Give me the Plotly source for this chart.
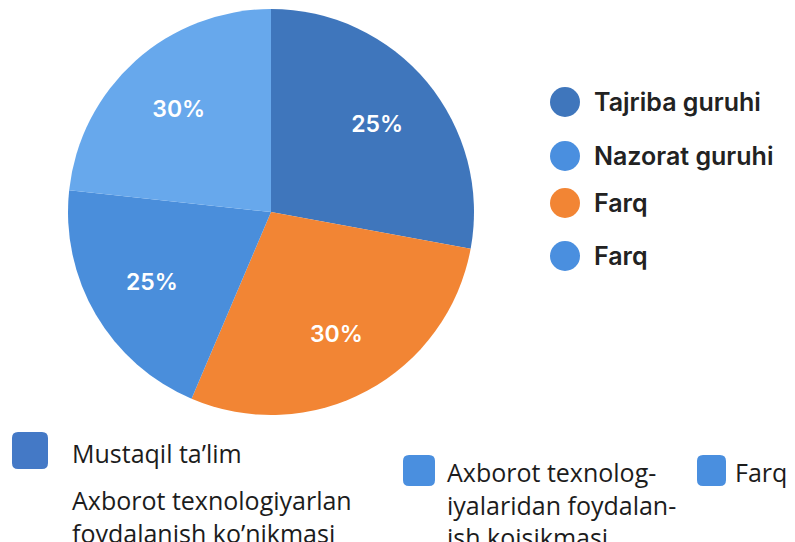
import plotly.graph_objects as go

W, H = 795, 542
PAGE_PAD = 8  # default body margin of the page

# slices, clockwise from 12 o'clock
slice_names = ["Tajriba guruhi", "Farq", "Nazorat guruhi", "Boshqa"]
slice_values = [27.9, 28.5, 20.3, 23.3]
slice_text = ["25%", "30%", "25%", "30%"]
slice_colors = ["#3f76bc", "#f28534", "#4a8edb", "#67a8ec"]

# right-hand legend
legend_labels = ["Tajriba guruhi", "Nazorat guruhi", "Farq", "Farq"]
legend_colors = ["#3f76bc", "#4a8fdf", "#f28534", "#4a8fdf"]

# bottom legend
bottom_labels = ["Mustaqil ta’lim", "Axborot texnolog-<br>iyalaridan foydalan-<br>ish koisikmasi", "Farq"]
bottom_colors = ["#4479c6", "#4a8fdf", "#4a8fdf"]
bottom_note = "Axborot texnologiyarlan<br>foydalanish ko’nikmasi"


def px(x, y):
    # screen pixel position -> paper coordinates (margins are zero)
    return (x - PAGE_PAD) / W, 1 - (y - PAGE_PAD) / H


fig = go.Figure()

cx, cy, r = 271, 212, 203
x0, y1 = px(cx - r, cy - r)
x1, y0 = px(cx + r, cy + r)
dom = dict(x=[x0, x1], y=[y0, y1])

# the coloured pie
fig.add_trace(go.Pie(
    labels=slice_names,
    values=slice_values,
    textinfo="none",
    marker=dict(colors=slice_colors, line=dict(width=0)),
    sort=False,
    direction="clockwise",
    rotation=0,
    domain=dom,
    showlegend=False,
    hoverinfo="skip",
))
# transparent ring on top only to carry the percentage labels further out
fig.add_trace(go.Pie(
    labels=slice_names,
    values=slice_values,
    text=slice_text,
    textinfo="text",
    textposition="inside",
    insidetextorientation="horizontal",
    textfont=dict(family="Inter", size=23, color="white", weight=600),
    marker=dict(colors=["rgba(0,0,0,0)"] * 4, line=dict(width=0)),
    hole=0.36,
    sort=False,
    direction="clockwise",
    rotation=0,
    domain=dom,
    showlegend=False,
    hoverinfo="skip",
))

shapes = []
annotations = []

# right legend: circles + labels
leg_y = [102, 156, 203, 256]
for lab, col, yy in zip(legend_labels, legend_colors, leg_y):
    a, b = px(550, yy - 15)
    c, d = px(580, yy + 15)
    shapes.append(dict(type="circle", xref="paper", yref="paper",
                       x0=a, x1=c, y0=d, y1=b,
                       fillcolor=col, line=dict(width=0)))
    tx, ty = px(592, yy)
    annotations.append(dict(text=lab, x=tx, y=ty, xref="paper", yref="paper",
                            xanchor="left", yanchor="middle", showarrow=False,
                            font=dict(family="Inter", size=25, color="#222222", weight=600)))

# bottom legend: rounded squares
sq = [(12, 432, 48, 469), (403, 455, 435, 486), (697, 455, 726, 486)]
for (ax, ay, bx, by), col in zip(sq, bottom_colors):
    rr = 6
    path = (f"M {ax+rr},{ay} L {bx-rr},{ay} Q {bx},{ay} {bx},{ay+rr} "
            f"L {bx},{by-rr} Q {bx},{by} {bx-rr},{by} L {ax+rr},{by} "
            f"Q {ax},{by} {ax},{by-rr} L {ax},{ay+rr} Q {ax},{ay} {ax+rr},{ay} Z")
    pts = []
    for tok in path.split():
        if "," in tok:
            xx, yy = tok.split(",")
            p, q = px(float(xx), float(yy))
            pts.append(f"{p:.5f},{q:.5f}")
        else:
            pts.append(tok)
    shapes.append(dict(type="path", xref="paper", yref="paper", path=" ".join(pts),
                       fillcolor=col, line=dict(width=0)))

bfont = dict(family="Open Sans", size=25, color="#1c1c1c")
for text, (xx, yy) in zip([bottom_labels[0], bottom_note, bottom_labels[1], bottom_labels[2]],
                          [(70, 434), (70, 481), (445, 453), (733, 453)]):
    tx, ty = px(xx, yy)
    annotations.append(dict(text=text, x=tx, y=ty, xref="paper", yref="paper",
                            xanchor="left", yanchor="top", showarrow=False,
                            font=bfont, align="left"))

fig.update_layout(
    width=W, height=H,
    margin=dict(l=0, r=0, t=0, b=0),
    paper_bgcolor="white",
    plot_bgcolor="white",
    shapes=shapes,
    annotations=annotations,
)

fig.write_html("out.html")
